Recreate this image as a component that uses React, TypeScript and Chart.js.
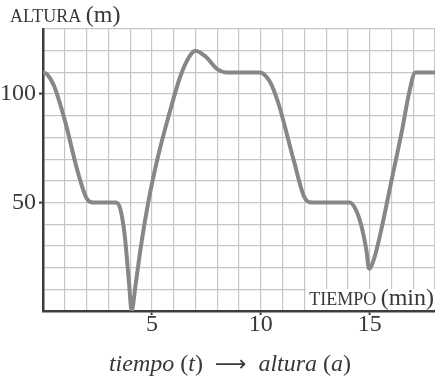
import { useEffect, useRef } from 'react';
import { Chart, registerables } from 'chart.js';

Chart.register(...registerables);

// Time in minutes and altitude in metres along the recorded path
const timeMin = [
  0, 0.2, 0.5, 1.0, 1.6, 2.0, 2.3,
  3.35, 3.55, 3.75, 3.95, 4.07, 4.25, 4.5, 4.85, 5.3, 5.8, 6.3, 6.7, 7.0,
  7.5, 8.0, 8.4,
  9.95, 10.4, 10.8, 11.5, 12.0, 12.35,
  14.08, 14.35, 14.6, 14.85, 14.97, 15.2, 15.5, 16.0, 16.5, 16.8, 17.1,
  18,
];
const heightM = [
  110, 109, 104, 88, 64, 52, 50,
  50, 47, 35, 13, 0, 12, 30, 51, 72, 91, 108, 117, 120,
  117, 111.5, 110,
  110, 106, 96, 70, 52.5, 50,
  50, 47, 40, 28, 19.5, 24, 36, 60, 84, 100, 110,
  110,
];

const xLabelled = [5, 10, 15];
const yLabelled = [50, 100];
const xRange = [0, 18];
const yRange = [0, 130];

const SERIF = "'Liberation Serif', 'Times New Roman', serif";
const INK = '#383838';
const AXIS = '#3d3d3d';
const GRID = '#c6c6c6';
const CURVE = '#87878a';

type Seg = { text: string; italic?: boolean; size: number; family?: string };

function fontOf(s: Seg) {
  return `${s.italic ? 'italic ' : ''}${s.size}px ${s.family ?? SERIF}`;
}

function segWidth(ctx: CanvasRenderingContext2D, segs: Seg[]) {
  let total = 0;
  for (const s of segs) {
    ctx.font = fontOf(s);
    total += ctx.measureText(s.text).width;
  }
  return total;
}

function drawSegments(ctx: CanvasRenderingContext2D, segs: Seg[], x: number, y: number, align: 'left' | 'right' | 'center') {
  const total = segWidth(ctx, segs);
  let cx = align === 'left' ? x : align === 'right' ? x - total : x - total / 2;
  ctx.textAlign = 'left';
  ctx.textBaseline = 'alphabetic';
  for (const s of segs) {
    ctx.font = fontOf(s);
    ctx.fillText(s.text, cx, y);
    cx += ctx.measureText(s.text).width;
  }
}

const textPlugin = {
  id: 'axisTitlesAndCaption',
  afterDraw(chart: any) {
    const { ctx, chartArea } = chart;
    ctx.save();
    ctx.fillStyle = INK;

    // vertical axis title
    drawSegments(ctx, [
      { text: 'ALTURA ', size: 18 },
      { text: '(m)', size: 24 },
    ], 10, 22, 'left');

    // horizontal axis title on a white patch inside the plot
    const xSegs: Seg[] = [
      { text: 'TIEMPO ', size: 18 },
      { text: '(min)', size: 24 },
    ];
    const w = segWidth(ctx, xSegs);
    const right = chartArea.right - 1;
    ctx.fillStyle = '#ffffff';
    ctx.fillRect(right - w - 3, chartArea.bottom - 22, w + 4, 20.5);
    ctx.fillStyle = INK;
    drawSegments(ctx, xSegs, right, chartArea.bottom - 6, 'right');

    // caption below the plot
    drawSegments(ctx, [
      { text: 'tiempo', italic: true, size: 24 },
      { text: ' (', size: 24 },
      { text: 't', italic: true, size: 24 },
      { text: ')', size: 24 },
      { text: '  ', size: 24 },
      { text: '\u27F6', size: 22, family: "'DejaVu Sans', sans-serif" },
      { text: '  ', size: 24 },
      { text: 'altura', italic: true, size: 24 },
      { text: ' (', size: 24 },
      { text: 'a', italic: true, size: 24 },
      { text: ')', size: 24 },
    ], 230, 371, 'center');
    ctx.restore();
  },
};

export default function App() {
  const canvasRef = useRef<HTMLCanvasElement | null>(null);

  useEffect(() => {
    const canvas = canvasRef.current;
    if (!canvas) return;
    const points = timeMin.map((t, i) => ({ x: t, y: heightM[i] }));
    const chart = new Chart(canvas, {
      type: 'line',
      data: {
        datasets: [
          {
            data: points,
            borderColor: CURVE,
            borderWidth: 4,
            pointRadius: 0,
            cubicInterpolationMode: 'monotone',
            borderCapStyle: 'round',
            borderJoinStyle: 'round',
            fill: false,
          },
        ],
      },
      options: {
        responsive: false,
        animation: false,
        devicePixelRatio: 1,
        layout: { padding: { left: 0, top: 29, right: 0, bottom: 0 } },
        plugins: {
          legend: { display: false },
          tooltip: { enabled: false },
        },
        scales: {
          x: {
            type: 'linear',
            min: xRange[0],
            max: xRange[1],
            afterFit: (scale: any) => {
              scale.height = 75;
            },
            grid: {
              color: GRID,
              lineWidth: 1.2,
              tickLength: 4,
              tickWidth: 2,
              tickColor: (c: any) => (xLabelled.includes(c.tick?.value) ? AXIS : 'rgba(0,0,0,0)'),
            },
            border: { color: AXIS, width: 2.5 },
            ticks: {
              stepSize: 1,
              autoSkip: false,
              maxRotation: 0,
              padding: -2,
              color: INK,
              font: { family: SERIF, size: 24, lineHeight: 1 },
              callback: (v: any) => (xLabelled.includes(Number(v)) ? String(v) : ''),
            },
          },
          y: {
            type: 'linear',
            min: yRange[0],
            max: yRange[1],
            afterFit: (scale: any) => {
              scale.width = 43;
            },
            grid: {
              color: GRID,
              lineWidth: 1.2,
              tickLength: 4,
              tickWidth: 2,
              tickColor: (c: any) => (yLabelled.includes(c.tick?.value) ? AXIS : 'rgba(0,0,0,0)'),
            },
            border: { color: AXIS, width: 2.5 },
            ticks: {
              stepSize: 10,
              autoSkip: false,
              padding: 3,
              color: INK,
              font: { family: SERIF, size: 24, lineHeight: 1 },
              callback: (v: any) => (yLabelled.includes(Number(v)) ? String(v) : ''),
            },
          },
        },
      },
      plugins: [textPlugin],
    });
    return () => chart.destroy();
  }, []);

  return (
    <div style={{ position: 'absolute', left: 0, top: 0, width: 435, height: 386, background: '#ffffff' }}>
      <canvas ref={canvasRef} width={435} height={386} style={{ display: 'block' }} />
    </div>
  );
}
